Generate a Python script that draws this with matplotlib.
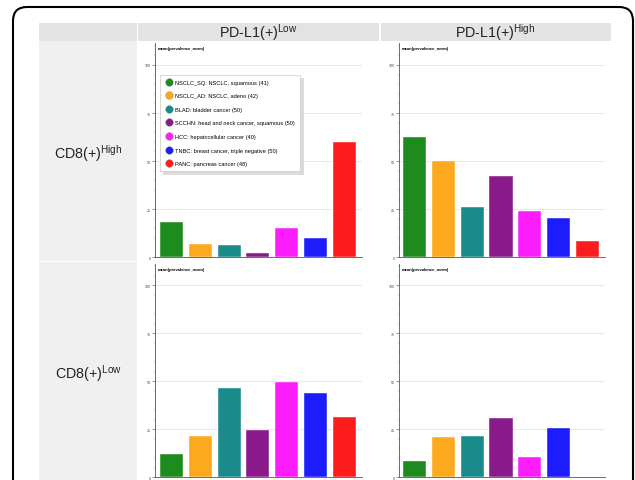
import matplotlib.pyplot as plt
import matplotlib.transforms as mtransforms
from matplotlib.patches import FancyBboxPatch, Rectangle
from matplotlib.lines import Line2D

plt.rcParams['font.family'] = ['Liberation Sans', 'DejaVu Sans']
plt.rcParams['mathtext.fontset'] = 'custom'
plt.rcParams['mathtext.rm'] = 'Liberation Sans'

cancers = [
    'NSCLC_SQ: NSCLC, squamous (41)',
    'NSCLC_AD: NSCLC, adeno (42)',
    'BLAD: bladder cancer (50)',
    'SCCHN: head and neck cancer, squamous (50)',
    'HCC: hepatocellular cancer (40)',
    'TNBC: breast cancer, triple negative (50)',
    'PANC: pancreas cancer (48)',
]
colors = ['#1e8b1e', '#fca91d', '#1b8a8a', '#8a1a8a', '#fc1dfc', '#1c1cfc', '#fc1c1c']

# mean(prevalence_norm) per panel
cd8_high_pdl1_low = [18.1, 7.0, 6.2, 2.2, 15.0, 10.2, 59.8]
cd8_high_pdl1_high = [62.4, 50.3, 26.2, 42.3, 24.3, 20.3, 8.5]
cd8_low_pdl1_low = [12.0, 21.4, 46.5, 24.7, 49.8, 44.1, 31.3]
cd8_low_pdl1_high = [8.3, 20.8, 21.4, 30.7, 10.6, 25.9, 0.3]

col_labels = ['PD-L1(+)$^{\\mathrm{Low}}$', 'PD-L1(+)$^{\\mathrm{High}}$']
row_labels = ['CD8(+)$^{\\mathrm{High}}$', 'CD8(+)$^{\\mathrm{Low}}$']
y_label = 'mean(prevalence_norm)'

W, H = 635, 481
fig = plt.figure(figsize=(W / 100, H / 100), dpi=100)


def frac(x0, y0, x1, y1):
    # pixel box (top-left origin) -> figure fraction rect
    return [x0 / W, 1 - y1 / H, (x1 - x0) / W, (y1 - y0) / H]


def box(x0, y0, x1, y1, color):
    l, b, w, h = frac(x0, y0, x1, y1)
    fig.add_artist(Rectangle((l, b), w, h, transform=fig.transFigure,
                             facecolor=color, edgecolor='none', zorder=0))


# table background
box(39, 24, 137, 42, '#e3e3e3')
box(138, 24, 379, 42, '#e3e3e3')
box(381, 24, 611, 42, '#e3e3e3')
box(39, 42, 137, 262, '#f0f0f0')
box(39, 263, 137, 481, '#f0f0f0')

# rounded outer frame
fig.add_artist(FancyBboxPatch((13, -20), 620, 493,
                              boxstyle='round,pad=0,rounding_size=14',
                              transform=mtransforms.IdentityTransform(),
                              fill=False, edgecolor='black', linewidth=1.5))

fig.text(258 / W, 1 - 33 / H, col_labels[0], ha='center', va='center', fontsize=10.3, color='#222222')
fig.text(495 / W, 1 - 33 / H, col_labels[1], ha='center', va='center', fontsize=10.3, color='#222222')
fig.text(88 / W, 1 - 154 / H, row_labels[0], ha='center', va='center', fontsize=10.3, color='#222222')
fig.text(88 / W, 1 - 374 / H, row_labels[1], ha='center', va='center', fontsize=10.3, color='#222222')


def panel(rect, values, x_left, y_top):
    ax = fig.add_axes(frac(*rect))
    x = list(range(len(values)))
    ax.bar(x, values, width=0.8, color=colors, edgecolor='white', linewidth=0.3, zorder=3)
    ax.set_xlim(-x_left, len(values) - 1 + 0.61)
    ax.set_ylim(0, y_top)
    ax.set_xticks([])
    ax.set_yticks([0, 25, 50, 75, 100])
    ax.set_yticks(range(0, 111, 5), minor=True)
    ax.grid(axis='y', which='major', color='#e4e4e4', linewidth=0.6, zorder=0)
    for s in ['top', 'right']:
        ax.spines[s].set_visible(False)
    for s in ['left', 'bottom']:
        ax.spines[s].set_color('#555555')
        ax.spines[s].set_linewidth(0.6)
    ax.tick_params(axis='y', which='major', labelsize=2.6, length=2, width=0.4,
                   pad=1, colors='#444444')
    ax.tick_params(axis='y', which='minor', length=1, width=0.3, colors='#777777')
    ax.text(0.015, 0.985, y_label, transform=ax.transAxes, fontsize=3.0,
            fontweight='bold', va='top', ha='left')
    return ax


ax1 = panel((155, 44, 362, 258.3), cd8_high_pdl1_low, 0.57, 111.4)
ax2 = panel((399, 44, 605, 258.3), cd8_high_pdl1_high, 0.54, 111.4)
ax3 = panel((155, 265, 362, 478.3), cd8_low_pdl1_low, 0.57, 111)
ax4 = panel((399, 265, 605, 478.3), cd8_low_pdl1_high, 0.54, 111)

handles = [Line2D([], [], marker='o', linestyle='', markersize=5.5, color=c,
                  markeredgecolor='#888888', markeredgewidth=0.3) for c in colors]
leg = ax1.legend(handles, cancers, loc='upper left',
                 bbox_to_anchor=(160 / W, 1 - 76 / H), bbox_transform=fig.transFigure,
                 borderaxespad=0, fontsize=4.1, labelspacing=1.5, handlelength=1.5,
                 handletextpad=0.35, borderpad=0.85, fancybox=False, framealpha=1,
                 edgecolor='#c8c8c8', shadow={'color': '#c4c4c4', 'alpha': 0.6})
leg.get_frame().set_linewidth(0.5)
leg.set_zorder(5)

fig.savefig('out.png', dpi=100)
